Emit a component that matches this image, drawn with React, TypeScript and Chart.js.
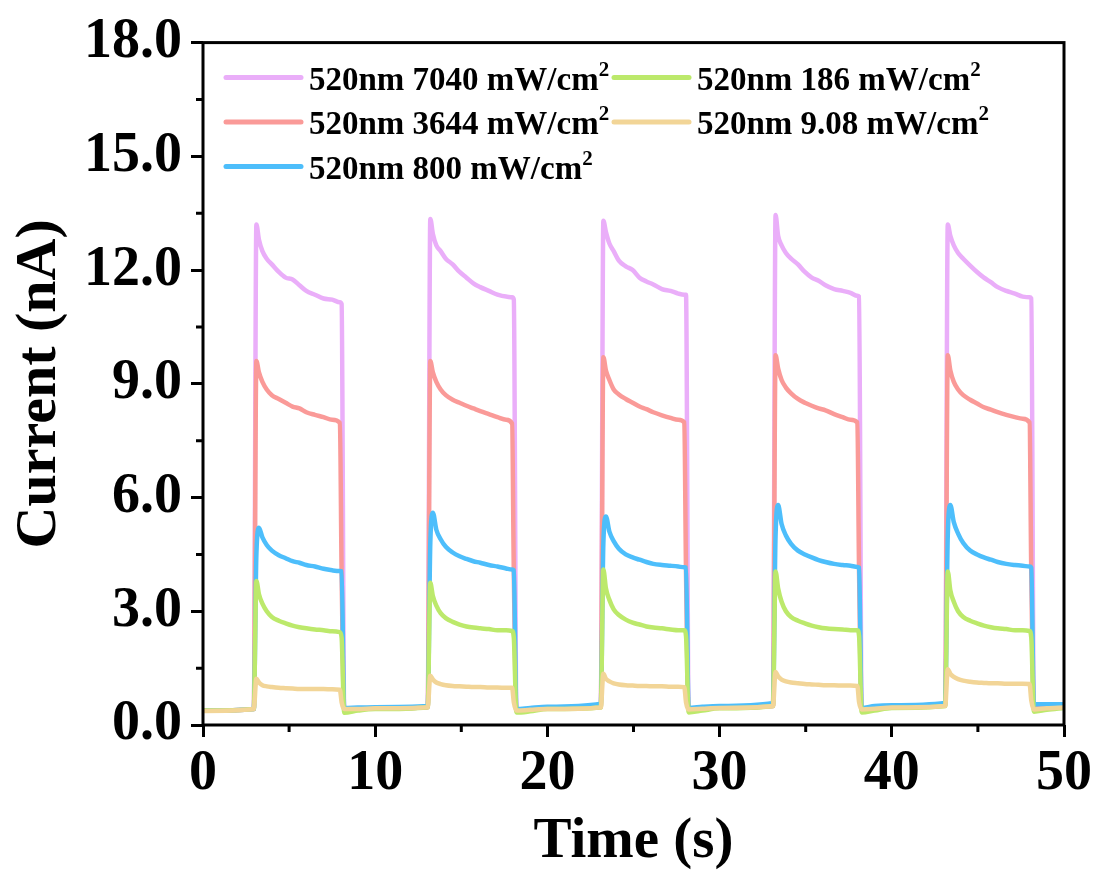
import React, { useEffect, useRef } from 'react';
import { Chart, registerables } from 'chart.js';

Chart.register(...registerables);

// Time axis (s), five on/off cycles
const TIME = [
  0, 2.95, 3.1, 3.25, 3.45, 3.7, 4.0, 4.4, 4.8, 5.2, 5.6, 6.0, 6.5, 7.0, 7.5, 7.95, 8.05, 8.2, 9.0,
  10, 13.05, 13.2, 13.35, 13.55, 13.8, 14.1, 14.5, 14.9, 15.3, 15.7, 16.1, 16.6, 17.1, 17.6, 17.95, 18.05, 18.2, 19.0,
  20, 23.1, 23.25, 23.4, 23.6, 23.85, 24.15, 24.55, 24.95, 25.35, 25.75, 26.15, 26.65, 27.15, 27.6, 27.95, 28.05, 28.2, 29.0,
  30, 33.1, 33.25, 33.4, 33.6, 33.85, 34.15, 34.55, 34.95, 35.35, 35.75, 36.15, 36.65, 37.15, 37.6, 38.0, 38.1, 38.25, 39.0,
  40, 43.1, 43.25, 43.4, 43.6, 43.85, 44.15, 44.55, 44.95, 45.35, 45.75, 46.15, 46.65, 47.15, 47.6, 48.0, 48.1, 48.25, 49.0,
  50,
];

// Current (nA) for each light intensity
const I_7040 = [
  0.38, 0.42, 13.2, 12.8, 12.5, 12.3, 12.15, 11.95, 11.8, 11.75, 11.6, 11.45, 11.35, 11.25, 11.22, 11.15, 11.1, 0.42, 0.44,
  0.44, 0.47, 13.35, 12.95, 12.65, 12.5, 12.3, 12.15, 11.95, 11.8, 11.65, 11.55, 11.45, 11.35, 11.3, 11.28, 11.22, 0.4, 0.42,
  0.44, 0.48, 13.3, 13.0, 12.7, 12.5, 12.25, 12.1, 12.0, 11.8, 11.7, 11.62, 11.5, 11.45, 11.38, 11.35, 11.35, 0.42, 0.44,
  0.46, 0.5, 13.45, 12.9, 12.65, 12.45, 12.3, 12.15, 11.95, 11.8, 11.72, 11.6, 11.5, 11.45, 11.4, 11.32, 11.3, 0.42, 0.44,
  0.47, 0.52, 13.2, 12.9, 12.65, 12.45, 12.3, 12.12, 11.95, 11.8, 11.68, 11.55, 11.45, 11.38, 11.3, 11.28, 11.25, 0.45, 0.47,
  0.5,
];
const I_3644 = [
  0.38, 0.42, 9.6, 9.3, 9.05, 8.85, 8.7, 8.6, 8.5, 8.4, 8.35, 8.25, 8.18, 8.12, 8.05, 7.97, 4.0, 0.42, 0.44,
  0.44, 0.47, 9.6, 9.3, 9.05, 8.85, 8.7, 8.58, 8.5, 8.42, 8.35, 8.28, 8.2, 8.12, 8.05, 7.95, 4.0, 0.4, 0.42,
  0.44, 0.48, 9.7, 9.35, 9.1, 8.85, 8.72, 8.6, 8.5, 8.4, 8.33, 8.25, 8.17, 8.1, 8.05, 7.98, 4.0, 0.42, 0.44,
  0.46, 0.5, 9.75, 9.4, 9.1, 8.9, 8.75, 8.6, 8.5, 8.42, 8.35, 8.3, 8.2, 8.12, 8.05, 7.98, 4.0, 0.42, 0.44,
  0.47, 0.52, 9.75, 9.35, 9.05, 8.85, 8.7, 8.58, 8.48, 8.38, 8.32, 8.25, 8.18, 8.12, 8.08, 7.98, 4.0, 0.45, 0.47,
  0.5,
];
const I_800 = [
  0.38, 0.42, 4.5, 5.2, 4.95, 4.75, 4.6, 4.48, 4.4, 4.32, 4.28, 4.22, 4.18, 4.12, 4.08, 4.06, 4.05, 0.45, 0.46,
  0.47, 0.5, 4.8, 5.6, 5.15, 4.9, 4.7, 4.55, 4.45, 4.38, 4.32, 4.28, 4.22, 4.18, 4.13, 4.1, 4.08, 0.42, 0.45,
  0.48, 0.56, 4.8, 5.5, 5.1, 4.85, 4.65, 4.5, 4.42, 4.36, 4.3, 4.25, 4.22, 4.2, 4.18, 4.16, 4.15, 0.45, 0.48,
  0.5, 0.58, 5.0, 5.8, 5.3, 5.0, 4.78, 4.6, 4.5, 4.42, 4.35, 4.3, 4.25, 4.22, 4.2, 4.17, 4.15, 0.45, 0.5,
  0.52, 0.58, 5.0, 5.8, 5.35, 5.05, 4.8, 4.6, 4.5, 4.42, 4.36, 4.3, 4.25, 4.22, 4.2, 4.18, 4.15, 0.55, 0.55,
  0.55,
];
const I_186 = [
  0.38, 0.42, 3.8, 3.45, 3.2, 3.0, 2.85, 2.75, 2.68, 2.62, 2.58, 2.55, 2.52, 2.5, 2.47, 2.45, 2.3, 0.32, 0.38,
  0.42, 0.47, 3.75, 3.4, 3.15, 2.95, 2.82, 2.72, 2.65, 2.6, 2.57, 2.55, 2.53, 2.5, 2.5, 2.48, 2.3, 0.33, 0.36,
  0.42, 0.46, 4.1, 3.6, 3.3, 3.05, 2.9, 2.78, 2.7, 2.65, 2.6, 2.57, 2.55, 2.52, 2.5, 2.5, 2.35, 0.33, 0.38,
  0.44, 0.5, 4.05, 3.6, 3.25, 3.0, 2.85, 2.75, 2.68, 2.62, 2.58, 2.55, 2.53, 2.52, 2.5, 2.5, 2.35, 0.33, 0.38,
  0.45, 0.5, 4.05, 3.55, 3.25, 3.0, 2.85, 2.75, 2.68, 2.62, 2.58, 2.55, 2.53, 2.5, 2.5, 2.48, 2.3, 0.35, 0.4,
  0.45,
];
const I_908 = [
  0.37, 0.42, 1.22, 1.12, 1.05, 1.02, 1.0, 0.98, 0.97, 0.96, 0.95, 0.95, 0.95, 0.95, 0.94, 0.93, 0.6, 0.42, 0.42,
  0.44, 0.47, 1.3, 1.2, 1.12, 1.08, 1.05, 1.03, 1.02, 1.01, 1.0, 1.0, 0.99, 0.99, 0.98, 0.98, 0.6, 0.38, 0.4,
  0.42, 0.46, 1.35, 1.22, 1.15, 1.1, 1.07, 1.05, 1.04, 1.03, 1.03, 1.02, 1.02, 1.01, 1.01, 1.0, 0.6, 0.41, 0.43,
  0.45, 0.5, 1.4, 1.28, 1.2, 1.15, 1.12, 1.1, 1.08, 1.07, 1.06, 1.05, 1.05, 1.04, 1.04, 1.03, 0.6, 0.41, 0.43,
  0.46, 0.5, 1.47, 1.35, 1.27, 1.21, 1.17, 1.14, 1.12, 1.11, 1.1, 1.1, 1.09, 1.09, 1.09, 1.08, 0.65, 0.41, 0.44,
  0.46,
];

const SERIES = [I_7040, I_3644, I_800, I_186, I_908];
const SERIES_LABELS = [
  '520nm 7040 mW/cm',
  '520nm 3644 mW/cm',
  '520nm 800 mW/cm',
  '520nm 186 mW/cm',
  '520nm 9.08 mW/cm',
];
const LABEL_SUPERSCRIPT = '2';
const COLORS = ['#EAAEF9', '#FA9A98', '#4DBEFB', '#BCE96B', '#F2D597'];

const X_TITLE = 'Time (s)';
const Y_TITLE = 'Current (nA)';
const X_MIN = 0, X_MAX = 50, X_STEP = 5, X_MAJOR = 10;
const Y_MIN = 0, Y_MAX = 18, Y_STEP = 1.5, Y_MAJOR = 3;

const SERIF = '"Liberation Serif", "Times New Roman", Times, serif';

const isMajor = (v: number, major: number) => Math.abs(v / major - Math.round(v / major)) < 1e-6;

const framePlugin = {
  id: 'frameAndLegend',
  afterDraw(chart: any) {
    const { ctx, chartArea } = chart;
    const { left, top, right, bottom } = chartArea;
    ctx.save();
    ctx.strokeStyle = '#000';
    ctx.lineWidth = 3;
    const xs = chart.scales.x;
    const ys = chart.scales.y;
    ctx.beginPath();
    xs.ticks.forEach((t: any) => {
      if (!isMajor(t.value, X_MAJOR)) {
        const px = xs.getPixelForValue(t.value);
        ctx.moveTo(px, bottom);
        ctx.lineTo(px, bottom + 7);
      }
    });
    ys.ticks.forEach((t: any) => {
      if (!isMajor(t.value, Y_MAJOR)) {
        const py = ys.getPixelForValue(t.value);
        ctx.moveTo(left, py);
        ctx.lineTo(left - 7, py);
      }
    });
    ctx.stroke();
    ctx.lineWidth = 3;
    ctx.strokeRect(left, top, right - left, bottom - top);

    const rowGap = 44.5;
    SERIES_LABELS.forEach((label, i) => {
      const col = i < 3 ? 0 : 1;
      const row = i < 3 ? i : i - 3;
      const x0 = left + (col === 0 ? 23 : 411);
      const y = top + 35 + row * rowGap;
      ctx.beginPath();
      ctx.strokeStyle = COLORS[i];
      ctx.lineWidth = 5;
      ctx.lineCap = 'round';
      ctx.moveTo(x0, y);
      ctx.lineTo(x0 + 75, y);
      ctx.stroke();
      ctx.fillStyle = '#000';
      ctx.font = `bold 33px ${SERIF}`;
      ctx.textBaseline = 'alphabetic';
      ctx.textAlign = 'left';
      const tx = x0 + 83;
      const by = y + 12;
      ctx.fillText(label, tx, by);
      const w = ctx.measureText(label).width;
      ctx.font = `bold 21px ${SERIF}`;
      ctx.fillText(LABEL_SUPERSCRIPT, tx + w, by - 14);
    });
    ctx.restore();
  },
};

export default function App() {
  const ref = useRef<HTMLCanvasElement | null>(null);

  useEffect(() => {
    document.body.style.margin = '0';
    const canvas = ref.current;
    if (!canvas) return;
    const datasets = SERIES.map((vals, i) => ({
      label: SERIES_LABELS[i] + LABEL_SUPERSCRIPT,
      data: TIME.map((t, j) => ({ x: t, y: vals[j] })),
      borderColor: COLORS[i],
      backgroundColor: COLORS[i],
      borderWidth: 4.5,
      pointRadius: 0,
      cubicInterpolationMode: 'monotone' as const,
      fill: false,
      order: 5 - i,
    }));
    const chart = new Chart(canvas, {
      type: 'line',
      data: { datasets },
      options: {
        animation: false,
        responsive: true,
        maintainAspectRatio: false,
        layout: { padding: { top: 39, right: 35, left: 0, bottom: 0 } },
        plugins: { legend: { display: false }, tooltip: { enabled: false } },
        scales: {
          x: {
            type: 'linear',
            min: X_MIN,
            max: X_MAX,
            afterFit: (s: any) => { s.height = 158; },
            ticks: {
              stepSize: X_STEP,
              autoSkip: false,
              maxRotation: 0,
              padding: 4,
              color: '#000',
              font: { family: SERIF, size: 56, weight: 'bold' },
              callback: (v: any) => (isMajor(Number(v), X_MAJOR) ? String(v) : ''),
            },
            grid: {
              drawOnChartArea: false,
              tickLength: 12,
              tickWidth: 3,
              tickColor: (c: any) => (c.tick && isMajor(c.tick.value, X_MAJOR) ? '#000' : 'rgba(0,0,0,0)'),
            },
            border: { display: false },
            title: {
              display: true,
              text: X_TITLE,
              color: '#000',
              font: { family: SERIF, size: 57, weight: 'bold', lineHeight: 1 },
              padding: { top: 0, bottom: 12 },
            },
          },
          y: {
            type: 'linear',
            min: Y_MIN,
            max: Y_MAX,
            afterFit: (s: any) => { s.width = 203; },
            ticks: {
              stepSize: Y_STEP,
              autoSkip: false,
              padding: 9,
              color: '#000',
              font: { family: SERIF, size: 56, weight: 'bold' },
              callback: (v: any) => (isMajor(Number(v), Y_MAJOR) ? Number(v).toFixed(1) : ''),
            },
            grid: {
              drawOnChartArea: false,
              tickLength: 12,
              tickWidth: 3,
              tickColor: (c: any) => (c.tick && isMajor(c.tick.value, Y_MAJOR) ? '#000' : 'rgba(0,0,0,0)'),
            },
            border: { display: false },
            title: {
              display: true,
              text: Y_TITLE,
              color: '#000',
              font: { family: SERIF, size: 58, weight: 'bold', lineHeight: 1 },
              padding: { top: 11, bottom: 0 },
            },
          },
        },
      },
      plugins: [framePlugin],
    });
    return () => chart.destroy();
  }, []);

  return (
    <div style={{ width: 1099, height: 883, position: 'relative' }}>
      <canvas ref={ref} />
    </div>
  );
}
